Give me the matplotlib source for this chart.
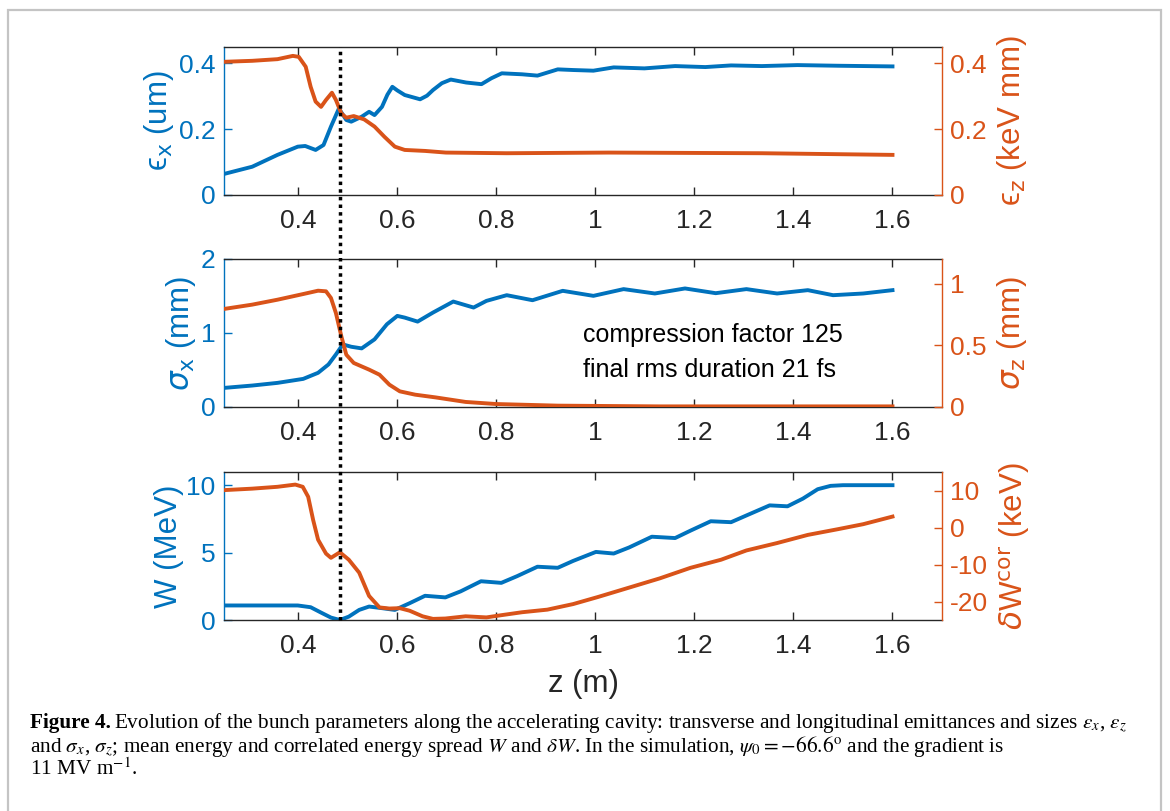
import matplotlib
matplotlib.use("Agg")
import matplotlib.pyplot as plt
from matplotlib.lines import Line2D
from matplotlib.patches import Rectangle
from matplotlib.transforms import blended_transform_factory

BLUE = "#0072BD"
ORANGE = "#D95319"
AXGRAY = "#262626"

# transverse / longitudinal emittance
z_eps_x = [0.25, 0.307, 0.358, 0.399, 0.414, 0.435, 0.451, 0.466, 0.482, 0.497, 0.507,
           0.528, 0.543, 0.554, 0.569, 0.580, 0.590, 0.600, 0.615, 0.646, 0.660, 0.672,
           0.690, 0.708, 0.739, 0.770, 0.790, 0.811, 0.852, 0.883, 0.924, 0.955, 0.996,
           1.037, 1.099, 1.161, 1.222, 1.274, 1.336, 1.408, 1.490, 1.60]
eps_x = [0.064, 0.086, 0.122, 0.147, 0.149, 0.137, 0.152, 0.208, 0.263, 0.228, 0.223,
         0.238, 0.253, 0.243, 0.268, 0.305, 0.329, 0.318, 0.304, 0.291, 0.302, 0.319,
         0.340, 0.351, 0.342, 0.337, 0.355, 0.370, 0.367, 0.363, 0.382, 0.380, 0.378,
         0.388, 0.385, 0.392, 0.389, 0.394, 0.392, 0.395, 0.393, 0.391]
z_eps_z = [0.25, 0.307, 0.358, 0.389, 0.401, 0.415, 0.425, 0.435, 0.446, 0.456, 0.468,
           0.476, 0.487, 0.497, 0.512, 0.533, 0.554, 0.574, 0.595, 0.615, 0.656, 0.698,
           0.821, 1.027, 1.336, 1.60]
eps_z = [0.405, 0.408, 0.413, 0.423, 0.420, 0.390, 0.329, 0.284, 0.268, 0.289, 0.311,
         0.289, 0.248, 0.235, 0.240, 0.230, 0.208, 0.177, 0.147, 0.137, 0.134, 0.129,
         0.127, 0.129, 0.127, 0.122]

# transverse / longitudinal rms size
z_sig_x = [0.25, 0.307, 0.358, 0.41, 0.44, 0.461, 0.476, 0.490, 0.507, 0.528, 0.554,
           0.579, 0.600, 0.615, 0.641, 0.672, 0.713, 0.754, 0.780, 0.821, 0.873, 0.934,
           0.996, 1.057, 1.120, 1.181, 1.243, 1.305, 1.367, 1.429, 1.480, 1.541, 1.60]
sig_x = [0.258, 0.290, 0.326, 0.380, 0.462, 0.575, 0.710, 0.846, 0.814, 0.792, 0.914,
         1.118, 1.231, 1.208, 1.154, 1.276, 1.425, 1.344, 1.434, 1.511, 1.443, 1.570,
         1.502, 1.593, 1.534, 1.602, 1.538, 1.593, 1.534, 1.579, 1.511, 1.534, 1.579]
z_sig_z = [0.25, 0.307, 0.358, 0.41, 0.44, 0.456, 0.466, 0.476, 0.487, 0.497, 0.512,
           0.543, 0.564, 0.584, 0.605, 0.636, 0.677, 0.738, 0.800, 0.924, 1.13, 1.60]
sig_z = [0.795, 0.830, 0.870, 0.916, 0.943, 0.938, 0.884, 0.762, 0.573, 0.424, 0.357,
         0.303, 0.262, 0.181, 0.127, 0.100, 0.078, 0.041, 0.024, 0.011, 0.005, 0.005]

# mean energy / correlated energy spread
z_W = [0.25, 0.399, 0.425, 0.446, 0.466, 0.484, 0.502, 0.523, 0.543, 0.569, 0.595,
       0.625, 0.656, 0.697, 0.728, 0.769, 0.810, 0.842, 0.883, 0.924, 0.955, 1.001,
       1.037, 1.068, 1.114, 1.161, 1.192, 1.233, 1.274, 1.305, 1.352, 1.388, 1.419,
       1.449, 1.475, 1.500, 1.60]
W = [1.08, 1.08, 0.95, 0.55, 0.18, 0.0, 0.25, 0.75, 1.0, 0.88, 0.75,
     1.25, 1.80, 1.68, 2.13, 2.88, 2.76, 3.26, 3.96, 3.88, 4.39, 5.06,
     4.94, 5.39, 6.19, 6.09, 6.64, 7.34, 7.27, 7.77, 8.52, 8.45, 9.02,
     9.72, 9.97, 10.02, 10.02]
z_dW = [0.25, 0.307, 0.358, 0.394, 0.409, 0.42, 0.43, 0.44, 0.456, 0.466, 0.484,
        0.502, 0.523, 0.543, 0.564, 0.584, 0.605, 0.625, 0.651, 0.672, 0.697, 0.738,
        0.780, 0.810, 0.852, 0.903, 0.955, 1.006, 1.068, 1.130, 1.192, 1.254, 1.305,
        1.367, 1.429, 1.490, 1.541, 1.60]
dW = [10.1, 10.5, 11.0, 11.6, 11.0, 8.3, 2.05, -3.3, -7.05, -8.2, -6.7,
      -8.7, -12.2, -18.5, -21.6, -21.9, -21.8, -22.5, -24.0, -24.7, -24.6, -24.0,
      -24.3, -23.7, -22.9, -22.2, -20.7, -18.75, -16.25, -13.75, -10.9, -8.7, -6.2,
      -4.2, -2.0, -0.45, 0.9, 2.95]

z_ticks = [0.4, 0.6, 0.8, 1.0, 1.2, 1.4, 1.6]
z_ticklabels = ["0.4", "0.6", "0.8", "1", "1.2", "1.4", "1.6"]
z_marker = 0.485

plt.rcParams["font.family"] = ["Liberation Sans", "DejaVu Sans"]
plt.rcParams["mathtext.fontset"] = "dejavusans"

TICK_FS = 19
LABEL_FS = 22.5


def panel(fig, rect, zl, yl, zr, yr, left_lim, right_lim, left_ticks, right_ticks,
          left_label, right_label):
    ax = fig.add_axes(rect)
    ax.plot(zl, yl, color=BLUE, lw=2.8)
    ax.set_xlim(0.25, 1.7)
    ax.set_ylim(*left_lim)
    ax.set_xticks(z_ticks)
    ax.set_xticklabels(z_ticklabels)
    ax.set_yticks(left_ticks)
    ax.set_yticklabels([f"{t:g}" for t in left_ticks])
    ax.tick_params(axis="x", direction="in", top=True, length=6, width=1,
                   colors=AXGRAY, labelsize=TICK_FS, pad=10)
    ax.tick_params(axis="y", direction="in", length=6, width=1, colors=BLUE,
                   labelsize=TICK_FS, pad=6)
    ax.set_ylabel(left_label, color=BLUE, fontsize=LABEL_FS, labelpad=2)
    ax.spines["left"].set_color(BLUE)
    ax.spines["top"].set_color(AXGRAY)
    ax.spines["bottom"].set_color(AXGRAY)
    ax.spines["right"].set_visible(False)

    ax2 = ax.twinx()
    ax2.plot(zr, yr, color=ORANGE, lw=2.8)
    ax2.set_ylim(*right_lim)
    ax2.set_yticks(right_ticks)
    ax2.set_yticklabels([f"{t:g}" for t in right_ticks])
    ax2.tick_params(axis="y", direction="in", length=6, width=1, colors=ORANGE,
                    labelsize=TICK_FS, pad=6)
    ax2.set_ylabel(right_label, color=ORANGE, fontsize=LABEL_FS, labelpad=6)
    ax2.spines["right"].set_color(ORANGE)
    for s in ("left", "top", "bottom"):
        ax2.spines[s].set_visible(False)
    for a in (ax, ax2):
        for s in a.spines.values():
            s.set_linewidth(1)
    return ax, ax2


fig = plt.figure(figsize=(11.7, 8.11), dpi=100)

x0, w = 224 / 1170, (942 - 224) / 1170
h = 148 / 811

ax1, ax1r = panel(fig, [x0, 1 - 195 / 811, w, h], z_eps_x, eps_x, z_eps_z, eps_z,
                  (0, 0.45), (0, 0.45), [0, 0.2, 0.4], [0, 0.2, 0.4],
                  "\u03f5$_\\mathrm{x}$ (um)", "\u03f5$_\\mathrm{z}$ (keV mm)")
ax2, ax2r = panel(fig, [x0, 1 - 407 / 811, w, h], z_sig_x, sig_x, z_sig_z, sig_z,
                  (0, 2), (0, 1.2), [0, 1, 2], [0, 0.5, 1],
                  r"$\sigma_\mathrm{x}$ (mm)", r"$\sigma_\mathrm{z}$ (mm)")
ax3, ax3r = panel(fig, [x0, 1 - 620 / 811, w, h], z_W, W, z_dW, dW,
                  (0, 11), (-25, 15), [0, 5, 10], [-20, -10, 0, 10],
                  "W (MeV)", r"$\delta$W$^\mathrm{cor}$ (keV)")
ax3.set_xlabel("z (m)", fontsize=LABEL_FS, color=AXGRAY, labelpad=8)

ax2.text(0.975, 0.97, "compression factor 125", fontsize=18, va="center", ha="left")
ax2.text(0.975, 0.50, "final rms duration 21 fs", fontsize=18, va="center", ha="left")

# dotted marker running through all three panels
trans = blended_transform_factory(ax3.transData, fig.transFigure)
fig.add_artist(Line2D([z_marker, z_marker], [1 - 620 / 811, 1 - 47 / 811],
                      transform=trans, color="black", lw=2.5, ls=(0, (1, 1.2))))

# caption box
fig.add_artist(Rectangle((8 / 1170, -0.05), (1161 - 8) / 1170, 1 - 10 / 811 + 0.05,
                         transform=fig.transFigure, fill=False, ec="#c4c4c4", lw=1.6))

cap_fs = 15.3
cap_font = ["Liberation Serif", "DejaVu Serif"]
cx = 30 / 1170
t1 = fig.text(cx, 1 - 728 / 811, "Figure 4.", fontsize=cap_fs, family=cap_font,
              fontweight="bold", va="baseline")
renderer = fig.canvas.get_renderer()
bb = t1.get_window_extent(renderer)
fig.text(bb.x1 / fig.bbox.width + 0.003, 1 - 728 / 811,
         r"Evolution of the bunch parameters along the accelerating cavity: transverse and "
         r"longitudinal emittances and sizes $\epsilon_x$, $\epsilon_z$",
         fontsize=cap_fs, family=cap_font, math_fontfamily="stix", va="baseline")
fig.text(cx, 1 - 752 / 811,
         r"and $\sigma_x$, $\sigma_z$; mean energy and correlated energy spread $W$ and "
         r"$\delta W$. In the simulation, $\psi_0 = -66.6^\mathrm{o}$ and the gradient is",
         fontsize=cap_fs, family=cap_font, math_fontfamily="stix", va="baseline")
fig.text(cx, 1 - 775 / 811, r"11 MV m$^{-1}$.", fontsize=cap_fs, family=cap_font,
         math_fontfamily="stix", va="baseline")

fig.savefig("out.png", dpi=100)
